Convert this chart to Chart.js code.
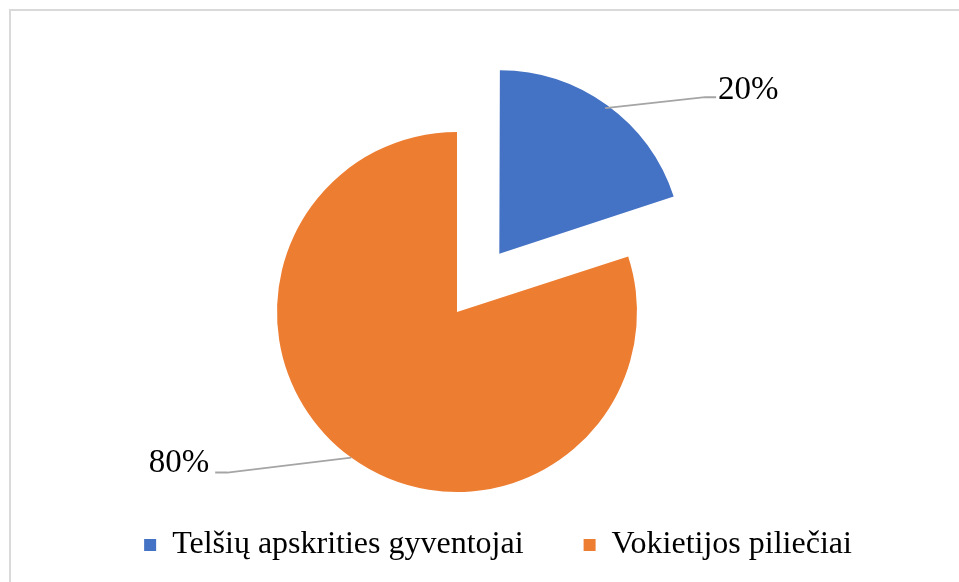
<!DOCTYPE html>
<html>
<head>
<meta charset="utf-8">
<script src="https://cdn.jsdelivr.net/npm/chart.js@4"></script>
<style>
  html, body { margin: 0; padding: 0; background: #fff; }
  #wrap { position: relative; width: 959px; height: 582px; overflow: hidden; }
  #frame {
    position: absolute; left: 9px; top: 9px; width: 1000px; height: 640px;
    border-left: 2px solid #d9d9d9; border-top: 2px solid #d9d9d9;
  }
  canvas { position: absolute; left: 0; top: 0; }
</style>
</head>
<body>
<div id="wrap">
  <div id="frame"></div>
  <canvas id="pie" width="959" height="582"></canvas>
</div>
<script>
const categories = ["Telšių apskrities gyventojai", "Vokietijos piliečiai"];
const shares = [20, 80];
const sliceColors = ["#4472C4", "#ED7D31"];
const explode = [288, 0];

const SERIF = '"Liberation Serif", "Times New Roman", serif';

// leader line bend/end and text anchor, relative to the slice edge point
const labelStyle = [
  { bend: [100, -11], end: [111, -11], text: [113, -18], align: "left" },
  { bend: [-124, 15], end: [-136, 15], text: [-142, 6], align: "right" }
];

const pieLabels = {
  id: "pieLabels",
  afterDatasetsDraw(chart) {
    const ctx = chart.ctx;
    const meta = chart.getDatasetMeta(0);
    meta.data.forEach((arc, i) => {
      const p = arc.getProps(["x", "y", "startAngle", "endAngle", "outerRadius"]);
      const mid = (p.startAngle + p.endAngle) / 2;
      const shift = (arc.options.offset || 0) / 4;
      const px = p.x + Math.cos(mid) * (shift + p.outerRadius);
      const py = p.y + Math.sin(mid) * (shift + p.outerRadius);
      const s = labelStyle[i];
      ctx.save();
      ctx.strokeStyle = "#a5a5a5";
      ctx.lineWidth = 2;
      ctx.beginPath();
      ctx.moveTo(px, py);
      ctx.lineTo(px + s.bend[0], py + s.bend[1]);
      ctx.lineTo(px + s.end[0], py + s.end[1]);
      ctx.stroke();
      ctx.fillStyle = "#000";
      ctx.font = "33px " + SERIF;
      ctx.textAlign = s.align;
      ctx.textBaseline = "middle";
      ctx.fillText(shares[i] + "%", px + s.text[0], py + s.text[1]);
      ctx.restore();
    });
  }
};

// the legend sits a bit right of the pie centre in the original
const legendShift = {
  id: "legendShift",
  afterLayout(chart) {
    chart.legend.left += 41;
    chart.legend.right += 41;
  }
};

new Chart(document.getElementById("pie"), {
  type: "pie",
  data: {
    labels: categories,
    datasets: [{
      data: shares,
      backgroundColor: sliceColors,
      borderColor: sliceColors,
      borderWidth: 0,
      offset: explode
    }]
  },
  options: {
    responsive: false,
    animation: false,
    events: [],
    radius: 180,
    clip: false,
    layout: { padding: { top: 155, bottom: 11, left: 20, right: 65 } },
    plugins: {
      tooltip: { enabled: false },
      legend: {
        position: "bottom",
        labels: {
          color: "#000",
          font: { family: SERIF, size: 32 },
          boxWidth: 12,
          boxHeight: 12,
          padding: 60
        }
      }
    }
  },
  plugins: [pieLabels, legendShift]
});
</script>
</body>
</html>
